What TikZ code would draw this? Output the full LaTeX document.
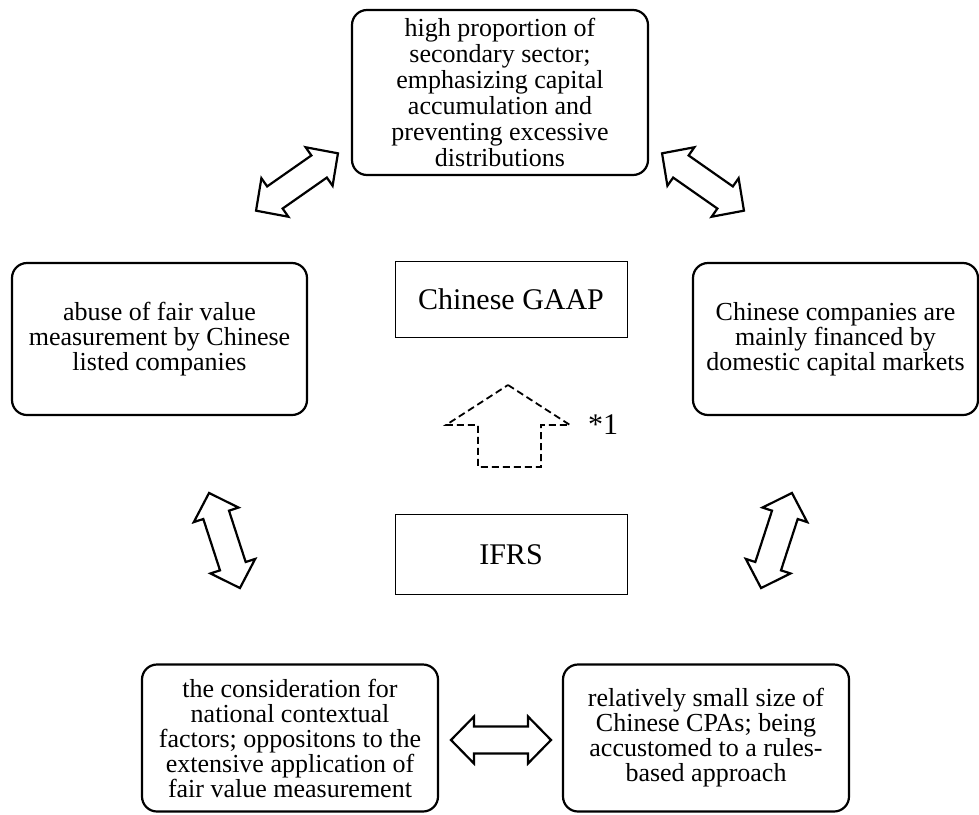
\documentclass[tikz,border=0pt]{standalone}
\usepackage{fontspec}
\setmainfont{Liberation Serif}
\usetikzlibrary{positioning}

\tikzset{
  box/.style={rectangle, rounded corners=15pt, draw=black, line width=2.2pt, align=center, inner sep=0pt},
  frame/.style={rectangle, draw=black, line width=0.9pt, align=center, inner sep=0pt, minimum width=232pt,
    font=\fontsize{30}{30}\selectfont},
  blockarrow/.style={draw=black, line width=2.2pt, line join=miter},
  pics/doublearrow/.style={code={
    \draw[blockarrow] (-50,0) -- (-27,23.5) -- (-27,13.5) -- (27,13.5) -- (27,23.5) -- (50,0)
      -- (27,-23.5) -- (27,-13.5) -- (-27,-13.5) -- (-27,-23.5) -- cycle;}}
}

\begin{document}
\begin{tikzpicture}[x=1pt, y=-1pt, font=\fontsize{26}{25}\selectfont]
        \useasboundingbox (0,0) rectangle (979,814);
        % Outer boxes
        \node (sector) [box, minimum width=296pt, minimum height=165pt, font=\fontsize{26}{26}\selectfont] at (500,92.5)
          {high proportion of\\secondary sector;\\emphasizing capital\\accumulation and\\preventing excessive\\distributions};
        \node (fairvalue) [box, minimum width=295pt, minimum height=152pt] at (159.5,339)
          {abuse of fair value\\measurement by Chinese\\listed companies};
        \node (financing) [box, minimum width=285pt, minimum height=152pt] at (835.5,339)
          {Chinese companies are\\mainly financed by\\domestic capital markets};
        \node (context) [box, minimum width=296pt, minimum height=147pt] at (290,738)
          {the consideration for\\national contextual\\factors; oppositons to the\\extensive application of\\fair value measurement};
        \node (cpas) [box, minimum width=286pt, minimum height=147pt] at (706,738)
          {relatively small size of\\Chinese CPAs; being\\accustomed to a rules-\\based approach};
        % Standards
        \node (gaap) [frame, minimum height=76pt] at (511,299) {Chinese GAAP};
        \node (ifrs) [frame, minimum height=80pt, below=177pt of gaap] {IFRS};
        % Dashed arrow from IFRS to Chinese GAAP
        \draw [line width=1.8pt, dash pattern=on 7pt off 4pt] (508,385) -- (570,425) -- (541,425) -- (541,467)
          -- (478,467) -- (478,425) -- (446,425) -- cycle;
        \node (note) [font=\fontsize{30}{30}\selectfont] at (603,425) {*1};
        % Two-way arrows between the boxes
        \pic (arrtl) [rotate=35] at (297,182) {doublearrow};
        \pic (arrtr) [rotate=-35] at (703,182) {doublearrow};
        \pic (arrl) [rotate=-72] at (224.5,540.5) {doublearrow};
        \pic (arrr) [rotate=72] at (776.5,540.5) {doublearrow};
        \pic (arrb) at (501,740) {doublearrow};
    \end{tikzpicture}
\end{document}
